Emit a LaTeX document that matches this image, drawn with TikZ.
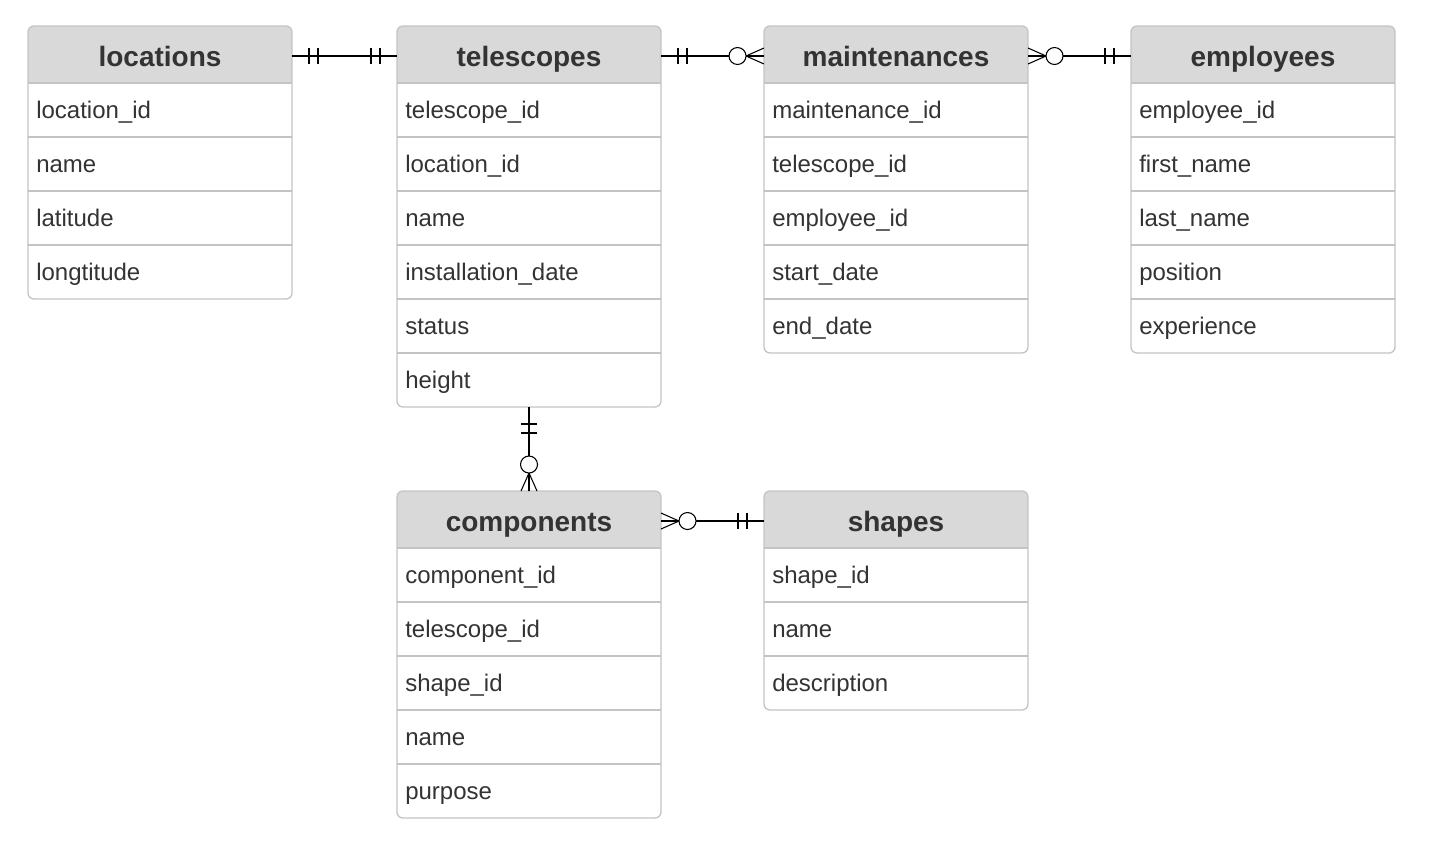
\documentclass[tikz,border=0pt]{standalone}
\usepackage{fontspec}
\setmainfont{Liberation Sans}
\usetikzlibrary{calc}
\definecolor{headgray}{RGB}{217,217,217}
\definecolor{linegray}{RGB}{196,196,196}
\definecolor{textgray}{RGB}{51,51,51}
\begin{document}
\begin{tikzpicture}[x=0.75pt, y=-0.75pt,
  tbl/.style={draw=linegray, line width=1pt, fill=white, rounded corners=4.5pt, anchor=north west,
    minimum width=198pt, inner sep=0pt, outer sep=0pt,
    path picture={\fill[headgray, sharp corners] (path picture bounding box.north west)
      rectangle ([yshift=-42.75pt]path picture bounding box.north east);}},
  head/.style={anchor=north, minimum width=198pt, minimum height=45pt, inner sep=0pt, outer sep=0pt,
    text height=15pt, text depth=0pt, text=textgray, font=\bfseries\fontsize{21}{25}\selectfont},
  field/.style={anchor=west, inner sep=0pt, text height=12.75pt, text depth=0pt, text=textgray,
    font=\fontsize{18}{22}\selectfont},
  rule/.style={draw=linegray, line width=1pt},
  conn/.style={line width=1.1pt},
  tick/.style={line width=0.8pt},
  one/.pic={\draw[tick] (17,-8) -- (17,8) (26,-8) -- (26,8);},
  many/.pic={\draw[tick] (0,-8) -- (18,0) -- (0,8) (0,0) -- (18,0);
    \draw[tick, fill=white] (26.5,0) circle[radius=8.5];}]
\useasboundingbox (0,0) rectangle (1433,854);
\foreach \nm/\px/\py/\hd/\nr/\fl in {
  Loc/28/26/locations/4/{location\_id,name,latitude,longtitude},
  Tel/397/26/telescopes/6/{telescope\_id,location\_id,name,installation\_date,status,height},
  Mnt/764/26/maintenances/5/{maintenance\_id,telescope\_id,employee\_id,start\_date,end\_date},
  Emp/1131/26/employees/5/{employee\_id,first\_name,last\_name,position,experience},
  Cmp/397/491/components/5/{component\_id,telescope\_id,shape\_id,name,purpose},
  Shp/764/491/shapes/3/{shape\_id,name,description}}
{
  \node[tbl, minimum height={(57+54*\nr)*0.75pt}] (\nm-box) at (\px,\py) {};
  \node[head] (\nm) at (\nm-box.north) {\hd};
  \foreach \r [count=\i] in \fl {
    \draw[rule] ($(\nm-box.north west)+(0,3+54*\i)$) -- ++(264,0);
    \node[field] (\nm\i) at ($(\nm-box.north west)+(8,30+54*\i)$) {\r};
  }
}
\draw[conn] (Loc.east) -- (Tel.west);
\draw[conn] (Tel.east) -- (Mnt.west);
\draw[conn] (Mnt.east) -- (Emp.west);
\draw[conn] (Tel-box.south) -- (Cmp.north);
\draw[conn] (Cmp.east) -- (Shp.west);
\path (Loc.east) pic{one} (Tel.west) pic[rotate=180]{one};
\path (Tel.east) pic{one} (Mnt.west) pic[rotate=180]{many};
\path (Mnt.east) pic{many} (Emp.west) pic[rotate=180]{one};
\path (Tel-box.south) pic[rotate=-90]{one} (Cmp.north) pic[rotate=90]{many};
\path (Cmp.east) pic{many} (Shp.west) pic[rotate=180]{one};
\end{tikzpicture}
\end{document}
